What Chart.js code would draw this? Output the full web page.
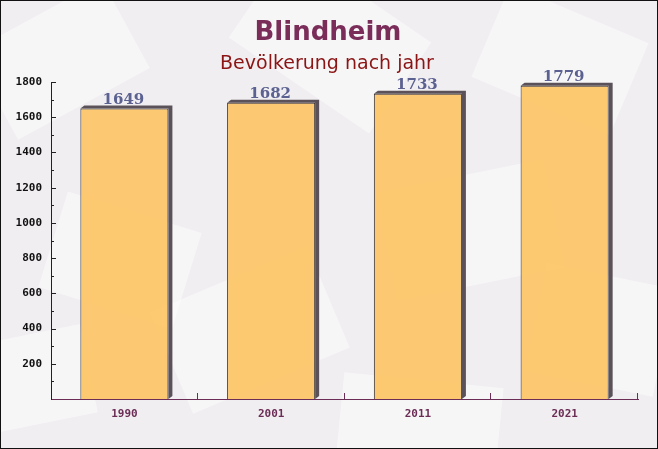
<!DOCTYPE html>
<html>
<head>
<meta charset="utf-8">
<script src="https://cdn.jsdelivr.net/npm/chart.js@4"></script>
<style>
  html, body { margin: 0; padding: 0; background: #f3f0f3; }
  #wrap { width: 658px; height: 449px; position: relative; }
</style>
</head>
<body>
<div id="wrap"><canvas id="myChart" width="658" height="449"></canvas></div>
<script>
var years = ['1990', '2001', '2011', '2021'];
var population = [1649, 1682, 1733, 1779];
var yTicks = [200, 400, 600, 800, 1000, 1200, 1400, 1600, 1800];

// envelope-like background, border and titles
var decor = {
    id: 'decor',
    beforeDraw: function (chart) {
        var c = chart.ctx;
        c.save();
        c.fillStyle = '#f1eef1';
        c.fillRect(0, 0, chart.width, chart.height);
        var shapes = [[60, 60, 150, 100, -0.5], [330, 40, 170, 110, 0.6], [560, 60, 150, 100, 0.4],
                      [120, 260, 140, 100, 0.3], [250, 330, 170, 110, -0.4], [470, 230, 170, 110, -0.2],
                      [600, 330, 130, 110, 0.2], [30, 380, 120, 90, -0.2], [420, 420, 160, 80, 0.1]];
        c.fillStyle = 'rgba(255,255,255,0.45)';
        shapes.forEach(function (s) {
            c.save();
            c.translate(s[0], s[1]);
            c.rotate(s[4]);
            c.fillRect(-s[2] / 2, -s[3] / 2, s[2], s[3]);
            c.restore();
        });
        c.restore();
    },
    afterDraw: function (chart) {
        var c = chart.ctx;
        c.save();
        c.textAlign = 'center';
        c.textBaseline = 'alphabetic';
        c.fillStyle = '#7b2d5a';
        c.font = 'bold 26px "DejaVu Sans"';
        c.fillText('Blindheim', 328, 40);
        c.fillStyle = '#8b1414';
        c.font = '19px "DejaVu Sans"';
        c.fillText('Bevölkerung nach jahr', 327, 69);
        c.strokeStyle = '#111';
        c.lineWidth = 1;
        c.strokeRect(0.5, 0.5, chart.width - 1, chart.height - 1);
        c.restore();
    }
};

// 3D shadow (top + right side only) + value labels + inner ticks
var bars3d = {
    id: 'bars3d',
    beforeDatasetsDraw: function (chart) {
        var c = chart.ctx;
        c.save();
        c.fillStyle = '#5a5258';
        chart.getDatasetMeta(0).data.forEach(function (b) {
            var x0 = b.x - b.width / 2, x1 = b.x + b.width / 2;
            c.beginPath();
            c.moveTo(x0, b.y);
            c.lineTo(x0 + 4, b.y - 3);
            c.lineTo(x1 + 4, b.y - 3);
            c.lineTo(x1 + 4, b.base - 3);
            c.lineTo(x1, b.base);
            c.lineTo(x1, b.y);
            c.closePath();
            c.fill();
        });
        c.restore();
    },
    afterDatasetsDraw: function (chart) {
        var c = chart.ctx;
        var ys = chart.scales.y, xs = chart.scales.x;
        c.save();
        c.font = 'bold 15px "DejaVu Serif"';
        c.fillStyle = '#5b6190';
        c.textAlign = 'center';
        c.textBaseline = 'alphabetic';
        chart.getDatasetMeta(0).data.forEach(function (b, i) {
            c.fillText(population[i], b.x - 1, b.y - 5);
        });
        // y ticks pointing into the plot
        c.strokeStyle = '#222';
        c.lineWidth = 1;
        for (var v = 100; v <= 1800; v += 100) {
            var py = Math.round(ys.getPixelForValue(v)) + 0.5;
            var len = v % 200 === 0 ? 5 : 3;
            c.beginPath();
            c.moveTo(xs.left, py);
            c.lineTo(xs.left + len, py);
            c.stroke();
        }
        // x ticks at category boundaries
        var step = (xs.right - xs.left) / years.length;
        c.strokeStyle = '#6b2d55';
        for (var k = 1; k <= years.length; k++) {
            var px = Math.round(xs.left + step * k) - 0.5;
            c.beginPath();
            c.moveTo(px, ys.bottom);
            c.lineTo(px, ys.bottom - 6);
            c.stroke();
        }
        c.restore();
    }
};

var ctx = document.getElementById('myChart').getContext('2d');
var myChart = new Chart(ctx, {
    type: 'bar',
    data: {
        labels: years,
        datasets: [{
            label: 'Bevölkerung',
            data: population,
            backgroundColor: 'rgba(253, 195, 95, 0.88)',
            borderColor: '#3a3236',
            borderWidth: { left: 1, top: 1, right: 1, bottom: 0 },
            borderSkipped: 'bottom',
            barPercentage: 0.6,
            categoryPercentage: 1.0
        }]
    },
    options: {
        responsive: false,
        animation: false,
        layout: { padding: { top: 82, left: 0, right: 20, bottom: 0 } },
        plugins: {
            legend: { display: false },
            tooltip: { enabled: false }
        },
        scales: {
            x: {
                grid: { display: false, drawTicks: false },
                border: { display: true, color: '#6b2d55', width: 1 },
                ticks: {
                    color: '#6b2d55',
                    font: { family: 'DejaVu Sans Mono', size: 11, weight: 'bold' },
                    padding: 9,
                    maxRotation: 0
                },
                afterFit: function (s) { s.height = 50; }
            },
            y: {
                min: 0,
                max: 1800,
                afterBuildTicks: function (s) {
                    s.ticks = yTicks.map(function (v) { return { value: v }; });
                },
                grid: { display: false, drawTicks: false },
                border: { display: true, color: '#222', width: 1 },
                ticks: {
                    color: '#111',
                    font: { family: 'DejaVu Sans Mono', size: 11, weight: 'bold' },
                    padding: 9,
                    callback: function (v) { return String(v); }
                },
                afterFit: function (s) { s.width = 51; }
            }
        }
    },
    plugins: [decor, bars3d]
});
</script>
</body>
</html>
